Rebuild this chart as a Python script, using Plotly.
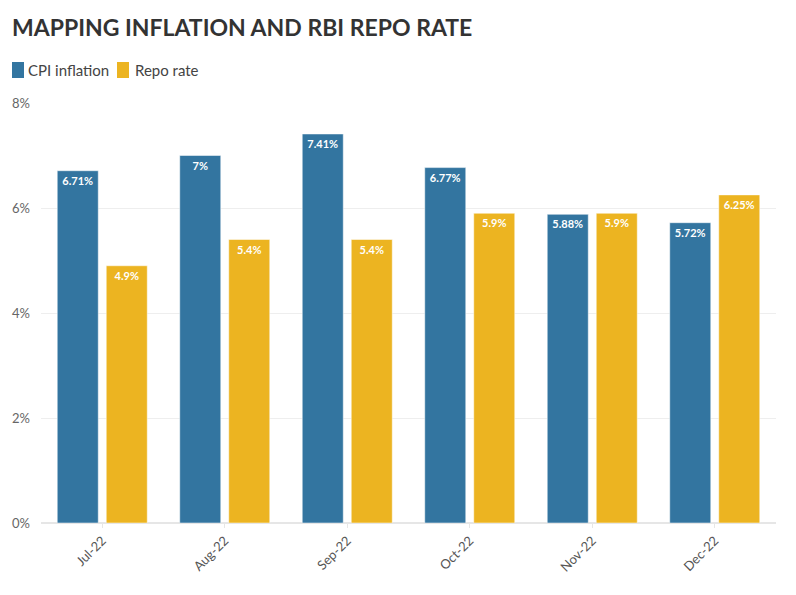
import plotly.graph_objects as go

months = ["Jul-22", "Aug-22", "Sep-22", "Oct-22", "Nov-22", "Dec-22"]
cpi = [6.71, 7.00, 7.41, 6.77, 5.88, 5.72]
repo = [4.90, 5.40, 5.40, 5.90, 5.90, 6.25]
cpi_labels = ["6.71%", "7%", "7.41%", "6.77%", "5.88%", "5.72%"]
repo_labels = ["4.9%", "5.4%", "5.4%", "5.9%", "5.9%", "6.25%"]
y_ticks = [0, 2, 4, 6, 8]
y_tick_labels = ["0%", "2%", "4%", "6%", "8%"]
series_names = ["CPI inflation", "Repo rate"]
series_colors = ["#3375a0", "#ecb421"]

FONT = "Lato"
W, H = 796, 595
OFF = 8  # page body margin
PL, PR, PT, PB = 41, 776, 103, 523  # plot area in page pixels
PW, PH = PR - PL, PB - PT

fig = go.Figure()
for name, vals, labels, col in zip(series_names, [cpi, repo], [cpi_labels, repo_labels], series_colors):
    fig.add_trace(go.Bar(x=months, y=vals, name=name, marker_color=col,
                         marker_line=dict(color="rgba(255,255,255,0.5)", width=1),
                         text=labels, textposition="inside", insidetextanchor="end",
                         textfont=dict(color="white", size=11, family=FONT, weight="bold"),
                         textangle=0, hoverinfo="skip", showlegend=False))

# custom legend (squares + text), page pixel coordinates mapped to paper
legend_items = [(12, 26), (117, 133)]
for (sx, tx), name, col in zip(legend_items, series_names, series_colors):
    fig.add_shape(type="rect", xref="paper", yref="paper",
                  x0=(sx - PL) / PW, x1=(sx + 12 - PL) / PW,
                  y0=(PB - 78) / PH, y1=(PB - 62) / PH,
                  fillcolor=col, line=dict(width=0), layer="above")
    fig.add_annotation(text=name, xref="paper", yref="paper", x=(tx - PL) / PW,
                       y=(PB - 70) / PH, xanchor="left", yanchor="middle",
                       showarrow=False, font=dict(size=15, color="#444", family=FONT))

fig.update_layout(
    width=W, height=H,
    margin=dict(l=PL - OFF, r=W + OFF - PR, t=PT - OFF, b=H + OFF - PB, autoexpand=False),
    paper_bgcolor="white", plot_bgcolor="white",
    font=dict(family=FONT, color="#555"),
    title=dict(text="<b>MAPPING INFLATION AND RBI REPO RATE</b>", x=(12 - OFF) / W, xanchor="left",
               xref="container", yref="container",
               y=1 - (28 - OFF) / H, yanchor="middle", font=dict(size=23, color="#333", family=FONT)),
    showlegend=False,
    barmode="group", bargap=0.2, bargroupgap=0.163,
    uniformtext=dict(minsize=8, mode="show"),
)
fig.update_xaxes(tickangle=-45, tickfont=dict(size=13, color="#555"), showgrid=False,
                 ticks="outside", ticklen=4, tickcolor="#e6e6e6", showline=False, automargin=False)
fig.update_yaxes(range=[0, 8], tickvals=y_ticks, ticktext=y_tick_labels, showgrid=True,
                 gridcolor="#eeeeee", zeroline=True, zerolinecolor="#e6e6e6", automargin=False,
                 tickfont=dict(size=13, color="#666"), ticks="", ticklabelstandoff=10)
fig.write_html("out.html")
